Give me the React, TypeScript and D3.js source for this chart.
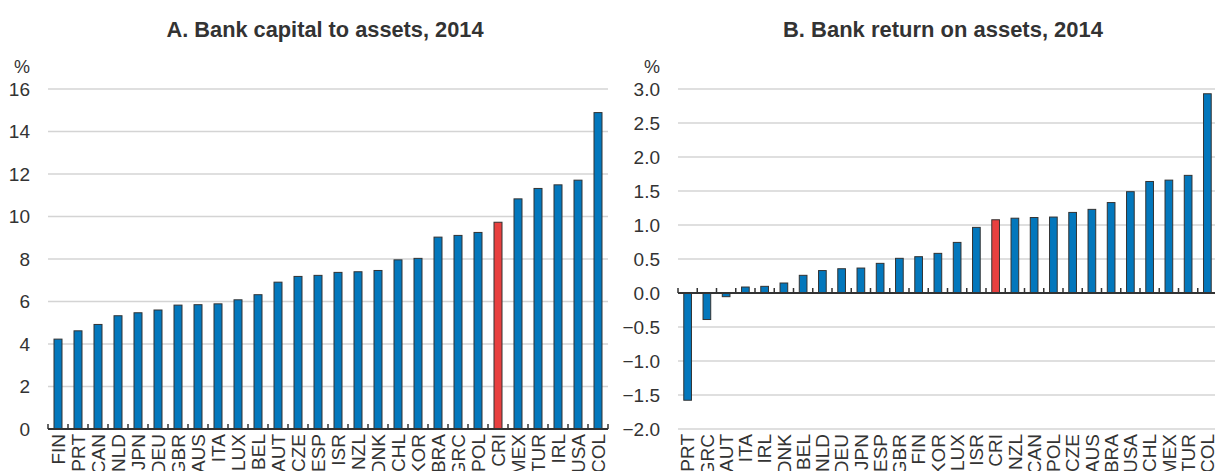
import React from "react";
import * as d3 from "d3";

const capCountries = ["FIN","PRT","CAN","NLD","JPN","DEU","GBR","AUS","ITA","LUX","BEL","AUT","CZE","ESP","ISR","NZL","DNK","CHL","KOR","BRA","GRC","POL","CRI","MEX","TUR","IRL","USA","COL"];
const capValues = [4.23,4.62,4.92,5.33,5.47,5.6,5.83,5.85,5.89,6.08,6.32,6.91,7.18,7.23,7.37,7.4,7.46,7.96,8.03,9.03,9.11,9.25,9.73,10.83,11.32,11.49,11.71,14.89];
const capTicks = [0, 2, 4, 6, 8, 10, 12, 14, 16];

const roaCountries = ["PRT","GRC","AUT","ITA","IRL","DNK","BEL","NLD","DEU","JPN","ESP","GBR","FIN","KOR","LUX","ISR","CRI","NZL","CAN","POL","CZE","AUS","BRA","USA","CHL","MEX","TUR","COL"];
const roaValues = [-1.577,-0.39,-0.054,0.088,0.098,0.147,0.26,0.33,0.357,0.367,0.436,0.51,0.534,0.583,0.744,0.965,1.077,1.1,1.11,1.117,1.185,1.23,1.33,1.49,1.64,1.66,1.73,2.93];
const roaTicks = [-2, -1.5, -1, -0.5, 0, 0.5, 1, 1.5, 2, 2.5, 3];

const FONT = "'Liberation Sans Narrow', 'Arial Narrow', 'Liberation Sans', Arial, sans-serif";
const BLUE = "#0377bc";
const RED = "#e8403f";
const TEXT = "#333";

type PanelProps = {
  title: string;
  titleX: number;
  titleW: number;
  cats: string[];
  vals: number[];
  ticks: number[];
  domain: [number, number];
  x0: number;
  x1: number;
  labelX: number;
  fmt: (v: number) => string;
};

const Panel = ({ title, titleX, titleW, cats, vals, ticks, domain, x0, x1, labelX, fmt }: PanelProps) => {
  const y = d3.scaleLinear().domain(domain).range([429, 89]);
  const x = d3.scaleBand().domain(cats).range([x0, x1]).paddingInner(0.6).paddingOuter(0.3);
  const step = x.step();
  const zero = y(0);
  const tickXs = d3.range(cats.length + 1).map((i) => x0 + i * step);
  return (
    <g>
      <text x={titleX} y={37} textAnchor="middle" fontFamily={FONT} fontWeight="bold" fontSize={22} fill={TEXT}
        textLength={titleW} lengthAdjust="spacingAndGlyphs">
        {title}
      </text>
      <text x={labelX} y={73} textAnchor="end" fontFamily={FONT} fontSize={18} fill={TEXT}>%</text>
      {ticks.map((t) => (
        <g key={t}>
          <line x1={x0} x2={x1} y1={y(t)} y2={y(t)} stroke="#d4d4d4" strokeWidth={1.5} />
          <text x={labelX} y={y(t)} dy="0.35em" textAnchor="end" fontFamily={FONT} fontSize={19} fill={TEXT}>
            {fmt(t)}
          </text>
        </g>
      ))}
      {cats.map((c, i) => {
        const v = vals[i];
        const top = Math.min(y(v), zero);
        const h = Math.abs(y(v) - zero);
        return (
          <rect key={c} x={x(c)} y={top} width={x.bandwidth()} height={h}
            fill={c === "CRI" ? RED : BLUE} stroke="#333" strokeWidth={1} />
        );
      })}
      <line x1={x0} x2={x1} y1={zero} y2={zero} stroke="#333" strokeWidth={2} />
      {tickXs.map((tx, i) => (
        <line key={i} x1={tx} x2={tx} y1={zero} y2={zero - 5} stroke="#333" strokeWidth={1.5} />
      ))}
      {cats.map((c) => (
        <text key={c} transform={`translate(${(x(c) as number) + x.bandwidth() / 2},${434}) rotate(-90)`}
          dy="0.36em" textAnchor="end" fontFamily={FONT} fontSize={19} fill={TEXT}>
          {c}
        </text>
      ))}
    </g>
  );
};

export default function App() {
  return (
    <svg width={1215} height={471} style={{ position: "absolute", left: 0, top: 0, background: "#fff" }}>
      <Panel title="A. Bank capital to assets, 2014" titleX={325} titleW={317} cats={capCountries} vals={capValues}
        ticks={capTicks} domain={[0, 16]} x0={48} x1={608} labelX={30} fmt={d3.format("d")} />
      <Panel title="B. Bank return on assets, 2014" titleX={943} titleW={320} cats={roaCountries} vals={roaValues}
        ticks={roaTicks} domain={[-2, 3]} x0={678} x1={1217} labelX={660} fmt={d3.format(".1f")} />
    </svg>
  );
}
